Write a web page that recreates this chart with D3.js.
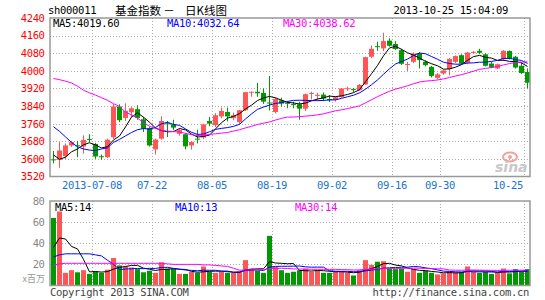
<!DOCTYPE html>
<html><head><meta charset="utf-8">
<script src="https://cdn.jsdelivr.net/npm/d3@7"></script>
<style>body{margin:0;background:#fff;}svg{display:block;}</style>
</head><body><svg id="c" width="545" height="300"></svg>
<script>
const dates = ["2013-06-27","2013-06-28",
"2013-07-01","2013-07-02","2013-07-03","2013-07-04","2013-07-05","2013-07-08","2013-07-09","2013-07-10","2013-07-11","2013-07-12",
"2013-07-15","2013-07-16","2013-07-17","2013-07-18","2013-07-19","2013-07-22","2013-07-23","2013-07-24","2013-07-25","2013-07-26",
"2013-07-29","2013-07-30","2013-07-31","2013-08-01","2013-08-02","2013-08-05","2013-08-06","2013-08-07","2013-08-08","2013-08-09",
"2013-08-12","2013-08-13","2013-08-14","2013-08-15","2013-08-16","2013-08-19","2013-08-20","2013-08-21","2013-08-22","2013-08-23",
"2013-08-26","2013-08-27","2013-08-28","2013-08-29","2013-08-30","2013-09-02","2013-09-03","2013-09-04","2013-09-05","2013-09-06",
"2013-09-09","2013-09-10","2013-09-11","2013-09-12","2013-09-13","2013-09-16","2013-09-17","2013-09-18","2013-09-23","2013-09-24",
"2013-09-25","2013-09-26","2013-09-27","2013-09-30","2013-10-08","2013-10-09","2013-10-10","2013-10-11","2013-10-14","2013-10-15",
"2013-10-16","2013-10-17","2013-10-18","2013-10-21","2013-10-22","2013-10-23","2013-10-24","2013-10-25"];
const open = [3598,3596,3612,3661,3662,3656,3690,3668,3612,3608,
 3698,3838,3786,3812,3826,3780,3740,3643,3692,3762,
 3757,3714,3712,3661,3692,3697,3772,3753,3793,3813,
 3785,3767,3821,3902,3905,3900,3856,3813,3866,3855,
 3849,3848,3828,3896,3887,3892,3872,3868,3881,3918,
 3918,3912,3938,4064,4112,4102,4137,4122,4094,4028,
 4041,4079,4041,4018,3968,3988,4008,4041,4071,4037,
 4084,4091,4075,4033,4011,4053,4090,4064,4023,3995];
const high = [3636,3676,3670,3682,3682,3707,3712,3672,3620,3692,
 3850,3848,3852,3835,3844,3790,3745,3692,3793,3772,
 3778,3738,3716,3680,3733,3760,3790,3808,3833,3833,
 3810,3822,3905,3906,3945,3920,3977,3880,3878,3862,
 3860,3860,3897,3905,3900,3902,3890,3884,3922,3928,
 3922,3940,4064,4115,4132,4173,4148,4135,4100,4041,
 4084,4085,4048,4022,3990,4005,4058,4070,4075,4086,
 4090,4100,4080,4040,4033,4094,4093,4068,4038,4011];
const low = [3580,3560,3600,3655,3608,3624,3676,3600,3596,3604,
 3690,3767,3772,3790,3778,3722,3656,3620,3687,3699,
 3730,3705,3643,3642,3670,3690,3748,3745,3785,3770,
 3776,3758,3818,3882,3882,3850,3820,3806,3838,3830,
 3830,3778,3818,3870,3866,3862,3858,3860,3878,3908,
 3904,3910,3936,4058,4091,4090,4110,4095,4026,4000,
 4035,4011,4020,3970,3962,3982,3980,4035,4028,4030,
 4078,4076,4020,4012,4008,4045,4052,4010,3986,3920];
const close = [3594,3638,3661,3676,3658,3686,3686,3611,3608,3687,
 3838,3776,3818,3830,3786,3737,3661,3688,3772,3757,
 3742,3731,3657,3677,3689,3757,3760,3798,3818,3793,
 3798,3821,3903,3905,3898,3860,3852,3872,3851,3850,
 3846,3828,3894,3900,3891,3874,3868,3880,3920,3921,
 3915,3936,4062,4100,4109,4135,4114,4099,4032,4031,
 4079,4049,4026,3977,3984,4002,4054,4067,4033,4083,
 4086,4082,4023,4015,4030,4091,4056,4015,3990,3946];
const volume = [64,70,12,14.5,12.5,14.5,11,13.5,12,15,
 26,19,18,17,15.5,12.5,14,12,22,16,
 16,11,11,13,12,18,13,12,13,12,
 12,13,24,16,14,12,47,17.5,14.5,12,
 13,14.5,16,13,14.5,12,12,13.5,13.5,12,
 9.5,14.5,24,19.5,22.5,23,16,15.5,16,13,
 15.5,12,14,12,10.5,11.5,13,12.5,13,18,
 13,12,13,11,12,16,11.5,15.5,13,15.5];
const ma5Lead = [3618,3598,3608,3632];
const ma10Lead = [3746,3725,3700,3675,3655,3645,3640,3638,3645];
const ma30Lead = [3965,3960,3953,3945,3930,3912,3900,3890,3878,3866,3851,3838,3812,3800,3785,3765,3748,3738,3730,3726,3724,3722,3716,3710,3706,3708,3711,3714,3717];
const vma5Lead = [36,45,44,37];
const vma10Lead = [27,29,30,30,30,30,30,29,28];
const vma30Lead = [19,20.5,21,21,21,21,21,21,21,21,21,21,21,21,21,21,21,21,21,20.5,20,20,20,20,20,19.5,19.5,19,18.5];
const priceTicks = [3520,3600,3680,3760,3840,3920,4000,4080,4160,4240];
const volTicks = [20,40,60,80];
const dateTicks = ["2013-07-08","2013-07-22","2013-08-05","2013-08-19","2013-09-02","2013-09-16","2013-09-30","2013-10-25"];
const dateTickLabels = ["2013-07-08","07-22","08-05","08-19","09-02","09-16","09-30","10-25"];
const priceLegend = ["MA5:4019.60","MA10:4032.64","MA30:4038.62"];
const volLegend = ["MA5:14","MA10:13","MA30:14"];

const RED="#ff5555", GREEN="#009900", MONO="DejaVu Sans Mono";
const svg = d3.select("#c");
const x = d3.scaleBand().domain(dates).range([50,530]);
const cx = d => x(d) + 3.5;
const y = d3.scaleLinear().domain([3520,4240]).range([176.5,18]);
const yv = d3.scaleLinear().domain([0,80]).range([285.5,201]);

function ma(arr, n, lead){
  return arr.map((v,i)=> i < n-1 ? lead[i] : d3.mean(arr.slice(i-n+1,i+1)));
}
function txt(g, s, px, py, color, anchor, size){
  return g.append("text").attr("x",px).attr("y",py).attr("fill",color)
    .attr("text-anchor",anchor||"start").style("font-family",MONO)
    .style("font-size",(size||10)+"px").style("letter-spacing","-0.3px").text(s);
}

// grids
const grid = svg.append("g").attr("stroke","#aaa").attr("stroke-dasharray","1,2");
priceTicks.slice(1,-1).forEach(t=>{
  const yy=Math.round(y(t))+0.5;
  grid.append("line").attr("x1",50).attr("x2",530).attr("y1",yy).attr("y2",yy);
});
volTicks.slice(0,-1).forEach(t=>{
  const yy=Math.round(yv(t))+0.5;
  grid.append("line").attr("x1",50).attr("x2",530).attr("y1",yy).attr("y2",yy);
});
dateTicks.forEach(d=>{
  const xx=x(d)+0.5;
  grid.append("line").attr("x1",xx).attr("x2",xx).attr("y1",18).attr("y2",176.5);
  grid.append("line").attr("x1",xx).attr("x2",xx).attr("y1",201).attr("y2",285.5);
});

// watermark
const wm = svg.append("g");
wm.append("ellipse").attr("cx",510).attr("cy",157).attr("rx",7).attr("ry",4.5).attr("fill","none").attr("stroke","#f4a0a0").attr("stroke-width",2);
wm.append("circle").attr("cx",510).attr("cy",157).attr("r",2).attr("fill","#f4a0a0");
wm.append("text").attr("x",495).attr("y",172).attr("fill","#c8c8c8").style("font-family","DejaVu Sans").style("font-style","italic").style("font-weight","bold").style("font-size","14px").text("sina");

// candles
const data = dates.map((d,i)=>({d,o:open[i],h:high[i],l:low[i],c:close[i],v:volume[i]}));
const cg = svg.append("g");
data.forEach(k=>{
  const col = k.c >= k.o ? RED : GREEN;
  const xx = cx(k.d);
  cg.append("line").attr("x1",xx).attr("x2",xx).attr("y1",y(k.h)).attr("y2",y(k.l)).attr("stroke",col).attr("stroke-width",1);
  const top = y(Math.max(k.o,k.c)), bot = y(Math.min(k.o,k.c));
  cg.append("rect").attr("x",x(k.d)+1).attr("width",5).attr("y",top).attr("height",Math.max(1,bot-top)).attr("fill",col);
  cg.append("rect").attr("x",x(k.d)+1).attr("width",5).attr("y",yv(k.v)).attr("height",yv(0)-yv(k.v)).attr("fill",col);
});

// MA lines
const line = sc => d3.line().x((v,i)=>cx(dates[i])).y(v=>sc(v));
[[ma(close,5,ma5Lead),"#000"],[ma(close,10,ma10Lead),"#0000ff"],[ma(close,30,ma30Lead),"#ff00ff"]].forEach(([a,c])=>{
  svg.append("path").attr("d",line(y)(a)).attr("fill","none").attr("stroke",c).attr("stroke-width",1);
});
[[ma(volume,5,vma5Lead),"#000"],[ma(volume,10,vma10Lead),"#0000ff"],[ma(volume,30,vma30Lead),"#ff00ff"]].forEach(([a,c])=>{
  svg.append("path").attr("d",line(yv)(a)).attr("fill","none").attr("stroke",c).attr("stroke-width",1);
});

// borders
svg.append("rect").attr("x",50).attr("y",18).attr("width",480).attr("height",158.5).attr("fill","none").attr("stroke","#999").attr("stroke-width",1.5);
svg.append("rect").attr("x",50).attr("y",201).attr("width",480).attr("height",84.5).attr("fill","none").attr("stroke","#999").attr("stroke-width",1.5);

// axes
const ay = svg.append("g").attr("transform","translate(44.5,0)")
  .call(d3.axisLeft(y).tickValues(priceTicks).tickSize(0).tickPadding(0).tickFormat(d3.format("d")));
ay.select(".domain").remove();
ay.selectAll("text").attr("fill","#ff0000").style("font-family",MONO).style("font-size","10.5px").style("letter-spacing","-0.4px");
const av = svg.append("g").attr("transform","translate(44.5,0)")
  .call(d3.axisLeft(yv).tickValues(volTicks).tickSize(0).tickPadding(0));
av.select(".domain").remove();
av.selectAll("text").attr("fill","#888").style("font-family",MONO).style("font-size","10.5px").style("letter-spacing","-0.4px");
const ax = svg.append("g").attr("transform","translate(0,177)")
  .call(d3.axisBottom(x).tickValues(dateTicks).tickSize(0).tickPadding(5).tickFormat((d,i)=>dateTickLabels[i]));
ax.select(".domain").remove();
ax.selectAll(".tick").attr("transform",d=>`translate(${x(d)},0)`);
ax.selectAll("text").attr("fill","#1874cd").style("font-family",MONO).style("font-size","10.5px").style("letter-spacing","-0.3px");
ax.selectAll(".tick").filter(d=>d==="2013-10-25").select("text").attr("text-anchor","end").attr("x",-1);

// header
const hd = svg.append("g");
txt(hd,"sh000011",48,14,"#000","start",10.5);
hd.append("text").attr("x",115).attr("y",15).style("font-family","Noto Sans CJK SC").style("font-size","11.5px").attr("fill","#000").text("基金指数");
hd.append("text").attr("x",169).attr("y",15).attr("text-anchor","middle").style("font-family","Noto Sans CJK SC").style("font-size","11.5px").attr("fill","#000").text("－");
hd.append("text").attr("x",185).attr("y",15).style("font-family","Noto Sans CJK SC").style("font-size","11.5px").attr("fill","#000").text("日K线图");
txt(hd,"2013-10-25 15:04:09",508,14,"#000","end",10.5);

// legends
const lc = ["#000","#0000ff","#ff00ff"];
[53,167,283].forEach((px,i)=>txt(svg,priceLegend[i],px,27,lc[i],"start",10.5));
[55,175,295].forEach((px,i)=>txt(svg,volLegend[i],px,211,lc[i],"start",10.5));

// footer
svg.append("text").attr("x",45).attr("y",282).attr("text-anchor","end").attr("fill","#999").style("font-family","Noto Sans CJK SC").style("font-size","9px").text("x百万");
txt(svg,"Copyright 2013 SINA.COM",50,296,"#444","start",10.5);
txt(svg,"http://finance.sina.com.cn",529,296,"#444","end",10.5);
</script></body></html>
